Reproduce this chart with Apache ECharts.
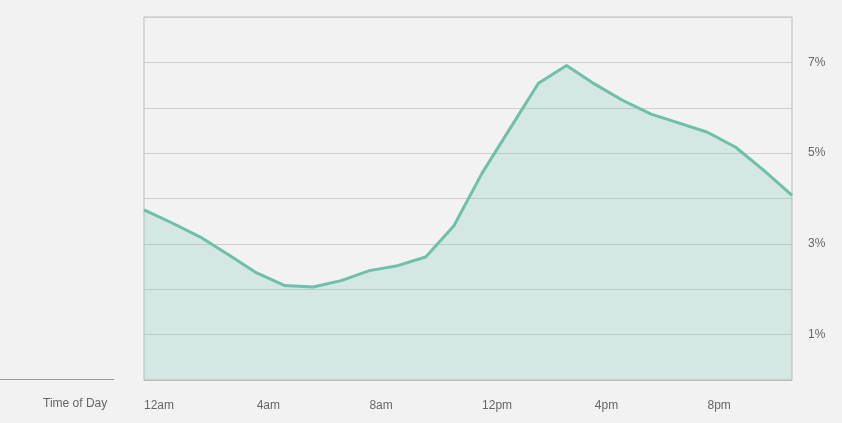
<!DOCTYPE html>
<html><head><meta charset="utf-8">
<script src="https://cdn.jsdelivr.net/npm/echarts@6/dist/echarts.min.js"></script>
<style>html,body{margin:0;padding:0;background:#f2f2f2}#c{width:842px;height:423px}</style>
</head><body><div id="c"></div>
<script>
var hours = ['12am','1am','2am','3am','4am','5am','6am','7am','8am','9am','10am','11am',
             '12pm','1pm','2pm','3pm','4pm','5pm','6pm','7pm','8pm','9pm','10pm','11pm'];
var share = [3.75,3.46,3.15,2.76,2.36,2.08,2.05,2.19,2.41,2.52,2.71,3.40,
             4.56,5.55,6.54,6.93,6.52,6.16,5.86,5.66,5.46,5.13,4.62,4.07];

var chart = echarts.init(document.getElementById('c'));
chart.setOption({
  backgroundColor: '#f2f2f2',
  textStyle: {fontFamily: 'Helvetica, Arial, sans-serif'},
  grid: {left: 144, right: 50, top: 17, bottom: 43, show: true, borderColor: '#bdbdbd', borderWidth: 1},
  graphic: [
    {type: 'line', shape: {x1: 0, y1: 379.5, x2: 114, y2: 379.5}, style: {stroke: '#999', lineWidth: 1}},
    {type: 'text', left: 43, top: 398, style: {text: 'Time of Day', fill: '#666', font: '12px Helvetica, Arial, sans-serif'}}
  ],
  xAxis: {
    type: 'category', data: hours, boundaryGap: false,
    axisLine: {lineStyle: {color: '#bdbdbd'}},
    axisTick: {show: false},
    axisLabel: {interval: 3, align: 'left', color: '#666', fontSize: 12, margin: 20}
  },
  yAxis: {
    type: 'value', position: 'right', min: 0, max: 8, interval: 1,
    axisLine: {show: false}, axisTick: {show: false},
    splitLine: {lineStyle: {color: '#cfcfcf'}},
    axisLabel: {color: '#666', fontSize: 12, margin: 16,
      formatter: function (v) { return (v % 2 === 1) ? v + '%' : ''; }}
  },
  series: [{
    type: 'line', data: share, symbol: 'none', smooth: false,
    lineStyle: {color: '#6cc1a8', width: 3},
    areaStyle: {color: 'rgba(108,193,168,0.3)'}
  }]
});
</script></body></html>
